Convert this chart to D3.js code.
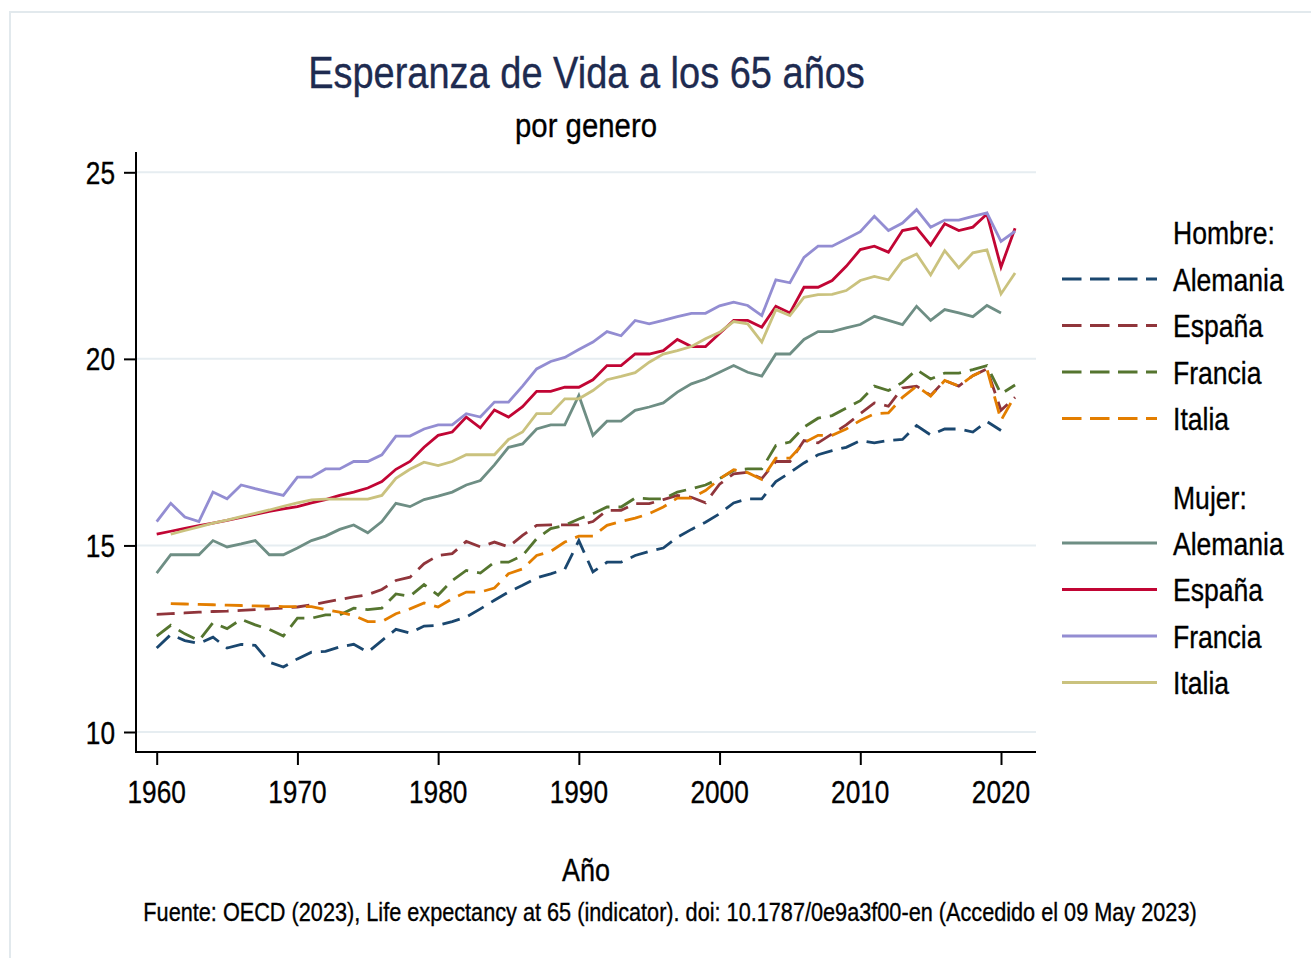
<!DOCTYPE html>
<html>
<head>
<meta charset="utf-8">
<title>Esperanza de Vida a los 65 años</title>
<style>
  body { margin: 0; background: #fff; }
  svg text { font-family: "Liberation Sans", Arial, sans-serif; fill: #000; stroke: #000; stroke-width: 0.35px; }
</style>
</head>
<body>
<div id="chart"></div>
<script src="https://cdn.jsdelivr.net/npm/d3@7"></script>
<script>
// ---- data (OECD, esperanza de vida a los 65 años) ----
var years = d3.range(1960, 2022);

// Hombre
var hAlemania = [12.25,12.61,12.45,12.37,12.54,12.25,12.35,12.32,11.87,11.74,
  11.96,12.14,12.16,12.28,12.35,12.14,12.45,12.75,12.65,12.84,
  12.86,12.96,13.08,13.30,13.53,13.75,13.93,14.13,14.24,14.36,
  15.13,14.29,14.55,14.55,14.73,14.84,14.93,15.22,15.43,15.62,
  15.85,16.14,16.25,16.25,16.71,16.95,17.21,17.43,17.54,17.63,
  17.81,17.75,17.81,17.84,18.21,17.96,18.12,18.12,18.04,18.32,
  18.08,null];
var hEspana = [13.15,13.17,13.19,13.21,13.23,13.24,13.26,13.28,13.30,13.32,
  13.35,13.41,13.48,13.55,13.62,13.68,13.82,14.06,14.15,14.51,
  14.73,14.78,15.11,14.96,15.09,14.96,15.27,15.54,15.55,15.55,
  15.55,15.64,15.94,15.94,16.12,16.12,16.23,16.34,16.29,16.14,
  16.64,16.92,16.96,16.79,17.25,17.25,17.81,17.75,17.99,18.23,
  18.53,18.82,18.73,19.22,19.27,19.02,19.42,19.27,19.55,19.73,
  18.62,18.97];
var hFrancia = [12.57,12.86,12.63,12.45,12.93,12.77,13.02,12.87,12.75,12.57,
  13.05,13.05,13.14,13.14,13.32,13.28,13.32,13.70,13.64,13.95,
  13.67,14.06,14.33,14.26,14.55,14.55,14.73,15.18,15.45,15.54,
  15.71,15.85,16.03,16.03,16.27,16.25,16.25,16.43,16.52,16.62,
  16.79,17.01,17.05,17.05,17.68,17.77,18.17,18.41,18.48,18.68,
  18.88,19.27,19.15,19.37,19.71,19.46,19.62,19.62,19.71,19.82,
  19.06,19.30];
var hItalia = [null,13.44,13.43,13.42,13.41,13.40,13.39,13.38,13.37,13.36,
  13.36,13.36,13.28,13.21,13.12,12.96,12.96,13.17,13.30,13.46,
  13.35,13.57,13.75,13.75,13.86,14.24,14.37,14.73,14.84,15.09,
  15.25,15.25,15.54,15.64,15.73,15.85,16.03,16.27,16.27,16.47,
  16.78,17.03,16.95,16.77,17.34,17.34,17.75,17.95,17.95,18.12,
  18.35,18.53,18.55,18.97,19.27,19.00,19.42,19.27,19.55,19.73,
  18.35,19.02];

// Mujer
var mAlemania = [14.26,14.75,14.75,14.75,15.13,14.96,15.04,15.13,14.75,14.75,
  14.93,15.13,15.25,15.43,15.55,15.34,15.64,16.13,16.04,16.23,
  16.32,16.43,16.62,16.74,17.16,17.63,17.72,18.12,18.23,18.23,
  19.02,17.95,18.33,18.33,18.62,18.71,18.82,19.11,19.33,19.46,
  19.64,19.82,19.64,19.54,20.13,20.13,20.52,20.73,20.73,20.83,
  20.92,21.14,21.03,20.92,21.41,21.03,21.32,21.23,21.13,21.43,
  21.23,null];
var mEspana = [15.30,15.38,15.46,15.53,15.60,15.67,15.75,15.83,15.91,15.98,
  16.04,16.14,16.23,16.34,16.43,16.54,16.71,17.04,17.25,17.63,
  17.95,18.04,18.44,18.15,18.63,18.44,18.72,19.13,19.13,19.24,
  19.24,19.44,19.82,19.82,20.13,20.13,20.22,20.52,20.33,20.33,
  20.68,21.03,21.03,20.85,21.41,21.23,21.92,21.92,22.10,22.48,
  22.93,23.02,22.86,23.44,23.51,23.05,23.62,23.44,23.53,23.88,
  22.46,23.50];
var mFrancia = [15.64,16.13,15.76,15.64,16.43,16.25,16.62,16.52,16.43,16.34,
  16.83,16.83,17.05,17.05,17.25,17.25,17.43,17.93,17.93,18.12,
  18.23,18.23,18.53,18.44,18.84,18.84,19.27,19.73,19.93,20.04,
  20.25,20.45,20.73,20.62,21.03,20.94,21.03,21.13,21.22,21.22,
  21.42,21.52,21.43,21.16,22.12,22.04,22.72,23.02,23.02,23.21,
  23.41,23.82,23.44,23.64,24.00,23.53,23.72,23.72,23.82,23.91,
  23.15,23.42];
var mItalia = [null,15.30,15.40,15.50,15.60,15.68,15.77,15.86,15.95,16.05,
  16.14,16.22,16.24,16.24,16.24,16.24,16.34,16.80,17.04,17.23,
  17.14,17.25,17.43,17.43,17.43,17.84,18.04,18.53,18.53,18.93,
  18.93,19.15,19.44,19.53,19.63,19.91,20.13,20.22,20.33,20.54,
  20.71,21.00,20.94,20.45,21.32,21.16,21.65,21.72,21.73,21.83,
  22.10,22.21,22.12,22.63,22.81,22.25,22.90,22.44,22.84,22.92,
  21.74,22.30];

var paises = ["Alemania", "España", "Francia", "Italia"];
var xTicks = [1960, 1970, 1980, 1990, 2000, 2010, 2020];
var yTicks = [10, 15, 20, 25];

// ---- look (Stata s2color) ----
var colHombre = ["#1a476f", "#90353b", "#55752f", "#e37e00"];
var colMujer  = ["#6e8e84", "#c10534", "#938dd2", "#cac27e"];
var dash = "18,9";
var lw = 2.8;

var width = 1311, height = 958;

var svg = d3.select("#chart").append("svg")
    .attr("width", width)
    .attr("height", height);

// outer graph region border
svg.append("rect")
    .attr("x", 10).attr("y", 12)
    .attr("width", width + 20).attr("height", height + 20)
    .attr("fill", "#fff")
    .attr("stroke", "#e2e9ed")
    .attr("stroke-width", 2);

var x = d3.scaleLinear().domain([1960, 2020]).range([156.7, 1001]);
var y = d3.scaleLinear().domain([10, 25]).range([732, 172.3]);

var plotLeft = 136, plotRight = 1036, plotTop = 152, plotBottom = 752;

// condensed text helper: scale horizontally
function label(parent, tx, ty, str, size, anchor, sx, fill) {
  var g = parent.append("g");
  var t = g.append("text")
      .attr("font-size", size)
      .attr("text-anchor", anchor || "start")
      .text(str);
  if (fill) t.style("fill", fill).style("stroke", fill);
  g.attr("transform", "translate(" + tx + "," + ty + ") scale(" + sx + ",1)");
  return t;
}
// same, but scaled so that it is w pixels wide
function fitLabel(parent, tx, ty, str, size, anchor, w, fill) {
  var t = label(parent, tx, ty, str, size, anchor, 1, fill);
  var sx = w / t.node().getComputedTextLength();
  d3.select(t.node().parentNode)
    .attr("transform", "translate(" + tx + "," + ty + ") scale(" + sx + ",1)");
  return t;
}

// gridlines
svg.append("g")
  .selectAll("line")
  .data(yTicks)
  .join("line")
    .attr("x1", plotLeft).attr("x2", plotRight)
    .attr("y1", function(d) { return y(d); })
    .attr("y2", function(d) { return y(d); })
    .attr("stroke", "#e6edf1")
    .attr("stroke-width", 2);

// axes
var yAxis = d3.axisLeft(y).tickValues(yTicks).tickSize(12).tickFormat("");
var xAxis = d3.axisBottom(x).tickValues(xTicks).tickSize(13).tickFormat("");

var gy = svg.append("g").attr("transform", "translate(" + plotLeft + ",0)").call(yAxis);
var gx = svg.append("g").attr("transform", "translate(0," + plotBottom + ")").call(xAxis);
[gy, gx].forEach(function(g) {
  g.select(".domain").remove();
  g.selectAll(".tick line").attr("stroke", "#000").attr("stroke-width", 2);
});
svg.append("line")
    .attr("x1", plotLeft).attr("x2", plotLeft)
    .attr("y1", plotTop).attr("y2", plotBottom + 1)
    .attr("stroke", "#000").attr("stroke-width", 2);
svg.append("line")
    .attr("x1", plotLeft - 1).attr("x2", plotRight)
    .attr("y1", plotBottom).attr("y2", plotBottom)
    .attr("stroke", "#000").attr("stroke-width", 2);

yTicks.forEach(function(v) {
  label(svg, 115, y(v) + 11.5, String(v), 32, "end", 0.82);
});
xTicks.forEach(function(v) {
  label(svg, x(v), 803, String(v), 32, "middle", 0.82);
});

// lines
var line = d3.line()
    .defined(function(d) { return d[1] != null; })
    .x(function(d) { return x(d[0]); })
    .y(function(d) { return y(d[1]); });

var hombre = [hAlemania, hEspana, hFrancia, hItalia];
var mujer = [mAlemania, mEspana, mFrancia, mItalia];

function pairs(vals) {
  return years.map(function(yr, i) { return [yr, vals[i]]; });
}

hombre.forEach(function(vals, i) {
  svg.append("path")
      .attr("d", line(pairs(vals)))
      .attr("fill", "none")
      .attr("stroke", colHombre[i])
      .attr("stroke-width", lw)
      .attr("stroke-dasharray", dash);
});
mujer.forEach(function(vals, i) {
  svg.append("path")
      .attr("d", line(pairs(vals)))
      .attr("fill", "none")
      .attr("stroke", colMujer[i])
      .attr("stroke-width", lw);
});

// legend
var leg = svg.append("g");
var rowH = 46.5;
label(leg, 1173, 232 + 11.5, "Hombre:", 32, "start", 0.83);
paises.forEach(function(p, i) {
  var cy = 279 + i * rowH;
  leg.append("line")
      .attr("x1", 1062).attr("x2", 1157)
      .attr("y1", cy).attr("y2", cy)
      .attr("stroke", colHombre[i]).attr("stroke-width", lw)
      .attr("stroke-dasharray", "19.5,8.5");
  label(leg, 1173, cy + 11.5, p, 32, "start", 0.83);
});
label(leg, 1173, 497 + 11.5, "Mujer:", 32, "start", 0.83);
paises.forEach(function(p, i) {
  var cy = 543 + i * rowH;
  leg.append("line")
      .attr("x1", 1062).attr("x2", 1157)
      .attr("y1", cy).attr("y2", cy)
      .attr("stroke", colMujer[i]).attr("stroke-width", lw);
  label(leg, 1173, cy + 11.5, p, 32, "start", 0.83);
});

// titles
fitLabel(svg, 586.5, 88, "Esperanza de Vida a los 65 años", 45, "middle", 557, "#1e2b50");
fitLabel(svg, 586, 137, "por genero", 34, "middle", 142);
fitLabel(svg, 586, 881, "Año", 32, "middle", 48);
fitLabel(svg, 670, 921, "Fuente: OECD (2023), Life expectancy at 65 (indicator). doi: 10.1787/0e9a3f00-en (Accedido el 09 May 2023)", 25, "middle", 1054);
</script>
</body>
</html>
